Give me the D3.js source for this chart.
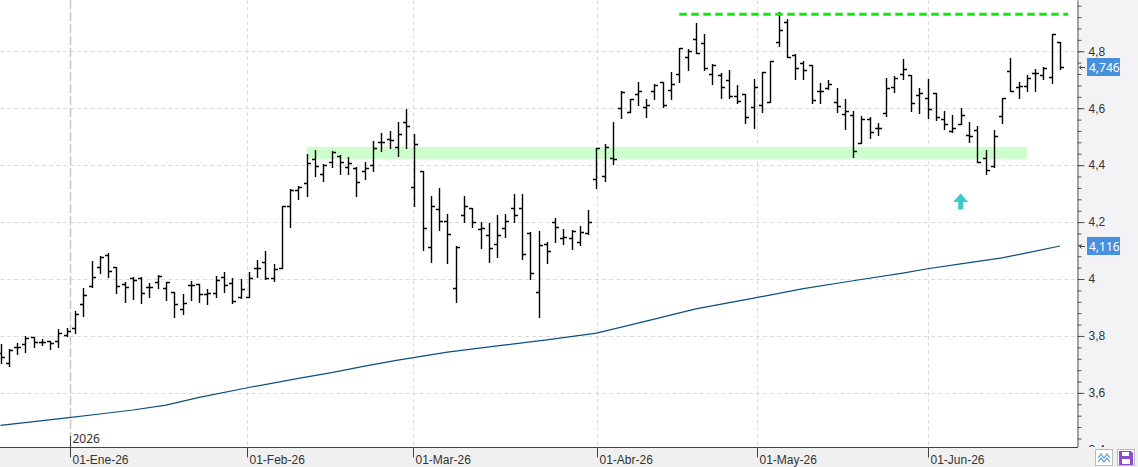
<!DOCTYPE html>
<html>
<head>
	<title> ohlc chart </title>
	<script src="https://d3js.org/d3.v7.min.js"></script>
	<style>
		body { margin: 0; background: white; }
		svg { display: block; font-family: "Segoe UI", "Noto Sans", sans-serif; }
	</style>
</head>
<body>
	<div id="vis"><svg></svg></div>
	<script type="text/javascript">

		// daily bars, mid Dec-25 to 23-Jun-26
		const opens = [3.740,3.704,3.760,3.772,3.795,3.780,3.781,3.781,3.803,3.827,3.912,3.976,4.041,4.084,4.041,3.982,4.002,4.004,3.971,3.988,
			3.968,3.953,3.895,3.979,3.982,3.947,3.950,4.006,3.985,3.936,3.938,4.038,4.061,4.005,4.038,4.257,4.313,4.336,4.421,4.368,
			4.410,4.433,4.392,4.390,4.381,4.401,4.480,4.492,4.465,4.551,4.322,4.381,4.111,4.246,4.204,3.967,4.225,4.248,4.176,4.155,
			4.122,4.178,4.248,4.248,4.161,3.955,4.123,4.199,4.143,4.143,4.131,4.161,4.351,4.363,4.425,4.600,4.586,4.649,4.605,4.661,
			4.691,4.664,4.720,4.779,4.842,4.828,4.719,4.717,4.699,4.644,4.649,4.605,4.611,4.621,4.832,4.904,4.787,4.758,4.750,4.661,
			4.670,4.621,4.579,4.576,4.477,4.562,4.530,4.582,4.674,4.720,4.717,4.647,4.635,4.653,4.562,4.520,4.544,4.506,4.524,4.424,
			4.398,4.573,4.731,4.674,4.679,4.723,4.717,4.709,4.832];
		const highs = [3.772,3.754,3.774,3.801,3.797,3.788,3.783,3.824,3.827,3.888,3.967,4.064,4.082,4.090,4.041,3.988,4.008,4.006,3.985,4.014,
			3.991,3.953,3.947,3.994,3.982,3.965,4.011,4.026,4.002,4.000,4.024,4.067,4.098,4.053,4.257,4.315,4.327,4.439,4.453,4.403,
			4.450,4.436,4.430,4.392,4.410,4.485,4.512,4.520,4.551,4.597,4.508,4.381,4.292,4.319,4.227,4.117,4.292,4.248,4.199,4.196,
			4.225,4.227,4.298,4.298,4.164,4.169,4.131,4.215,4.176,4.172,4.186,4.242,4.459,4.474,4.551,4.661,4.632,4.693,4.632,4.684,
			4.691,4.726,4.811,4.807,4.898,4.861,4.754,4.723,4.734,4.682,4.649,4.703,4.728,4.766,4.937,4.913,4.791,4.764,4.752,4.688,
			4.699,4.670,4.632,4.590,4.574,4.570,4.547,4.705,4.714,4.773,4.717,4.670,4.703,4.653,4.590,4.576,4.600,4.551,4.539,4.453,
			4.524,4.635,4.775,4.691,4.717,4.738,4.744,4.861,4.832];
		const lows = [3.704,3.695,3.735,3.745,3.760,3.768,3.753,3.760,3.801,3.809,3.871,3.971,4.020,4.006,3.950,3.920,3.929,3.915,3.938,3.967,
			3.926,3.865,3.877,3.926,3.920,3.911,3.936,3.953,3.915,3.934,3.936,4.008,4.000,3.993,4.038,4.182,4.280,4.293,4.362,4.345,
			4.395,4.368,4.369,4.293,4.351,4.381,4.451,4.461,4.433,4.459,4.258,4.102,4.061,4.172,4.055,3.920,4.201,4.184,4.110,4.061,
			4.078,4.149,4.201,4.069,4.000,3.868,4.057,4.131,4.122,4.104,4.119,4.158,4.321,4.345,4.404,4.567,4.586,4.611,4.570,4.632,
			4.605,4.632,4.693,4.734,4.793,4.734,4.684,4.637,4.637,4.617,4.547,4.530,4.586,4.621,4.820,4.779,4.703,4.703,4.617,4.617,
			4.667,4.588,4.527,4.430,4.477,4.494,4.506,4.574,4.656,4.703,4.591,4.584,4.567,4.559,4.526,4.518,4.544,4.482,4.410,4.368,
			4.395,4.547,4.661,4.635,4.661,4.662,4.703,4.688,4.738];
		const closes = [3.725,3.751,3.760,3.792,3.778,3.780,3.776,3.809,3.818,3.877,3.944,4.006,4.076,4.029,3.976,3.973,3.996,3.950,3.973,4.012,
			3.991,3.912,3.915,3.979,3.947,3.950,3.996,3.979,3.924,3.965,4.005,4.040,4.002,4.034,4.257,4.313,4.324,4.407,4.397,4.401,
			4.447,4.410,4.407,4.340,4.389,4.459,4.482,4.488,4.509,4.538,4.473,4.178,4.257,4.204,4.157,4.111,4.257,4.199,4.180,4.108,
			4.155,4.204,4.225,4.087,4.020,4.119,4.099,4.184,4.149,4.169,4.166,4.201,4.459,4.463,4.422,4.658,4.631,4.662,4.611,4.682,
			4.611,4.685,4.811,4.802,4.793,4.742,4.752,4.676,4.644,4.625,4.570,4.676,4.728,4.766,4.875,4.779,4.740,4.734,4.629,4.661,
			4.684,4.609,4.590,4.451,4.562,4.515,4.530,4.670,4.707,4.737,4.617,4.653,4.597,4.570,4.545,4.532,4.576,4.504,4.410,4.383,
			4.502,4.635,4.661,4.678,4.705,4.725,4.740,4.861,4.746];

		// moving average, read at a few bar positions
		const maIdx = [0,4,8,12,16,20,24,30,36,40,44,48,54,60,66,72,78,84,91,97,103,109,112,116,121,124,128];
		const maVal = [3.486,3.499,3.512,3.526,3.540,3.557,3.584,3.619,3.651,3.671,3.694,3.715,3.743,3.765,3.786,3.810,
			3.852,3.895,3.933,3.966,3.994,4.021,4.036,4.053,4.074,4.092,4.116];

		// month ticks (position in bars) and labels
		const monthPos = [8.43, 29.74, 49.8, 72.03, 91.36, 112.0];
		const monthLabels = ["01-Ene-26", "01-Feb-26", "01-Mar-26", "01-Abr-26", "01-May-26", "01-Jun-26"];
		const yearLabel = "2026";

		const yMajor = [3.4, 3.6, 3.8, 4.0, 4.2, 4.4, 4.6, 4.8];
		const bandLow = 4.422, bandHigh = 4.464, bandFrom = 37, bandTo = 124;
		const resistance = 4.930, resFrom = 82, resTo = 129;
		const arrowBar = 116, arrowTip = 4.30;
		const lastClose = 4.746, lastMa = 4.116;

		const w = 1138, h = 467;
		const plot_right = 1077, plot_bottom = 447;

		const svg = d3.select("svg").attr("width", w).attr("height", h);

		const x = d3.scaleLinear().domain([0, 128]).range([0.5, 1060]);
		const y = d3.scaleLinear().domain([3.41, 4.98]).range([plot_bottom, 0]);

		const fmt = d => String(+d.toFixed(3)).replace(".", ",");

		svg.append("rect").attr("width", w).attr("height", h).attr("fill", "white");

		// grid
		svg.append("g").selectAll("line").data(yMajor.filter(v => v > 3.5)).join("line")
			.attr("x1", 0).attr("x2", plot_right)
			.attr("y1", d => Math.round(y(d)) + 0.5).attr("y2", d => Math.round(y(d)) + 0.5)
			.attr("stroke", "#dcdcdc").attr("stroke-dasharray", "4,3");
		svg.append("g").selectAll("line").data(monthPos).join("line")
			.attr("x1", d => Math.round(x(d)) + 0.5).attr("x2", d => Math.round(x(d)) + 0.5)
			.attr("y1", 0).attr("y2", plot_bottom)
			.attr("stroke", (d, i) => i == 0 ? "#cacaca" : "#dcdcdc")
			.attr("stroke-width", (d, i) => i == 0 ? 1.6 : 1)
			.attr("stroke-dasharray", (d, i) => i == 0 ? "9,3" : "4,3");

		// support band
		svg.append("rect")
			.attr("x", x(bandFrom)).attr("width", x(bandTo) - x(bandFrom))
			.attr("y", y(bandHigh)).attr("height", y(bandLow) - y(bandHigh))
			.attr("fill", "#ccffcc");

		// moving average
		const ma = maIdx.map((d, i) => [d, maVal[i]]);
		svg.append("path").datum(ma)
			.attr("d", d3.line().x(d => x(d[0])).y(d => y(d[1])))
			.attr("fill", "none").attr("stroke", "#0b4f80").attr("stroke-width", 1.2);

		// ohlc bars
		const bars = opens.map((o, i) => ({i: i, o: o, h: highs[i], l: lows[i], c: closes[i]}));
		svg.append("g").selectAll("path").data(bars).join("path")
			.attr("d", function(d) {
				const bx = Math.round(x(d.i)) + 0.5;
				const yo = Math.round(y(d.o)) + 0.5, yc = Math.round(y(d.c)) + 0.5;
				return "M" + bx + "," + Math.round(y(d.h)) + "V" + (Math.round(y(d.l)) + 1)
					+ "M" + (bx - 3.5) + "," + yo + "H" + bx
					+ "M" + bx + "," + yc + "H" + (bx + 3.5);
			})
			.attr("fill", "none").attr("stroke", "black").attr("stroke-width", 1.4);

		// resistance line
		svg.append("line")
			.attr("x1", x(resFrom)).attr("x2", x(resTo))
			.attr("y1", y(resistance)).attr("y2", y(resistance))
			.attr("stroke", "#14e614").attr("stroke-width", 3).attr("stroke-dasharray", "7.5,4.5");

		// up arrow
		svg.append("path")
			.attr("transform", "translate(" + x(arrowBar) + "," + y(arrowTip) + ")")
			.attr("d", "M0,0L7.5,8.5H2.5V16H-2.5V8.5H-7.5Z")
			.attr("fill", "#3ccaca");

		// right axis panel
		svg.append("rect").attr("x", plot_right).attr("y", 0).attr("width", w - plot_right).attr("height", plot_bottom).attr("fill", "#f3f3f6");

		const minor = d3.range(86, 125).map(k => k * 0.04);
		svg.append("g").attr("transform", "translate(" + (plot_right + 0.5) + ",0)")
			.call(d3.axisRight(y).tickValues(minor).tickSize(4).tickSizeOuter(0).tickFormat(""))
			.call(g => g.selectAll("line").attr("stroke", "#555"))
			.call(g => g.select(".domain").attr("stroke", "#555"));
		svg.append("g").attr("transform", "translate(" + (plot_right + 0.5) + ",0)")
			.call(d3.axisRight(y).tickValues(yMajor).tickSize(7).tickPadding(4).tickSizeOuter(0).tickFormat(fmt))
			.call(g => g.select(".domain").remove())
			.call(g => g.selectAll("line").attr("stroke", "#555"))
			.call(g => g.selectAll("text").attr("fill", "#333").attr("font-size", 12).attr("font-family", null));

		// value boxes
		const boxes = [lastClose, lastMa];
		const vb = svg.append("g").selectAll("g").data(boxes).join("g")
			.attr("transform", d => "translate(0," + Math.round(y(d)) + ")");
		vb.append("rect").attr("x", 1087).attr("y", -9).attr("width", 33).attr("height", 18).attr("fill", "#4690de");
		vb.append("text").attr("x", 1089).attr("y", 4.5).attr("fill", "white").attr("font-size", 12).text(fmt);
		vb.append("path").attr("d", "M1085,0.5H1079.5M1081.5,-1.5L1079.5,0.5L1081.5,2.5")
			.attr("fill", "none").attr("stroke", "#444").attr("stroke-width", 1);

		// bottom strip and time axis
		svg.append("rect").attr("x", 0).attr("y", plot_bottom).attr("width", w).attr("height", h - plot_bottom).attr("fill", "#f0f0f0");

		svg.append("g").attr("transform", "translate(0," + (plot_bottom + 0.5) + ")")
			.call(d3.axisBottom(x).tickValues(monthPos).tickSize(10).tickSizeOuter(0).tickFormat((d, i) => monthLabels[i]))
			.call(g => g.select(".domain").attr("d", "M0,0H" + (plot_right + 1)).attr("stroke", "#444"))
			.call(g => g.selectAll(".tick").attr("transform", d => "translate(" + (Math.round(x(d)) + 0.5) + ",0)"))
			.call(g => g.selectAll("line").attr("stroke", "#444"))
			.call(g => g.selectAll("text").attr("text-anchor", "start").attr("x", 2).attr("y", 16).attr("dy", 0)
				.attr("fill", "#333").attr("font-size", 12).attr("font-family", null));

		const x26 = Math.round(x(monthPos[0])) + 0.5;
		svg.append("line").attr("x1", x26).attr("x2", x26).attr("y1", 436).attr("y2", plot_bottom).attr("stroke", "#444");
		svg.append("text").attr("x", x26 + 2).attr("y", 443).attr("font-size", 12).attr("fill", "#333").text(yearLabel);

		// buttons bottom right
		svg.append("rect").attr("x", 1095.5).attr("y", 449.5).attr("width", 17).attr("height", 16).attr("fill", "white").attr("stroke", "#bbb");
		svg.append("path").attr("d", "M1098,458L1101,454L1104,458L1107,454L1110,458M1098,462L1101,458L1104,462L1107,458L1110,462")
			.attr("fill", "none").attr("stroke", "#5a9bd6").attr("stroke-width", 1.2);
		svg.append("rect").attr("x", 1117.5).attr("y", 449.5).attr("width", 17).attr("height", 16).attr("fill", "white").attr("stroke", "#bbb");
		svg.append("path").attr("d", "M1119,451H1131L1133,453V465H1119Z").attr("fill", "#8a4fc8");
		svg.append("rect").attr("x", 1122).attr("y", 452).attr("width", 7).attr("height", 4).attr("fill", "white");
		svg.append("rect").attr("x", 1122).attr("y", 459).attr("width", 8).attr("height", 5).attr("fill", "white");

	</script>
</body>
</html>
